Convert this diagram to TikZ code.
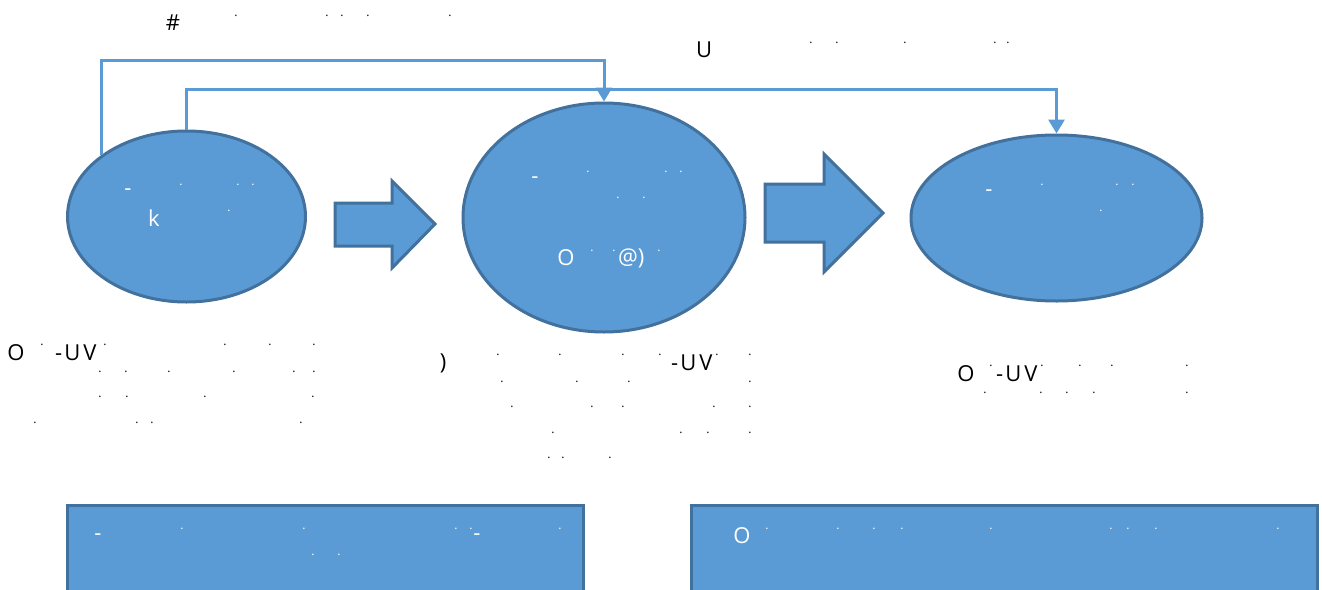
\documentclass[tikz,border=0pt]{standalone}
\usepackage{fontspec}
\setmainfont{Open Sans}
\usetikzlibrary{shapes.geometric,arrows.meta}
\definecolor{shapeblue}{HTML}{5B9BD5}
\definecolor{edgeblue}{HTML}{41719C}
% one row of small dots at a given height
\newcommand\dotrow[4]{%
  \foreach \x [count=\i] in {#4} \node[dotmark,text=#3] (#1-\i) at (\x,#2) {.};}
% the spaced "-UV" mark
\newcommand\uvmark{-\kern2pt U\kern3pt V}
\tikzset{
  blob/.style={ellipse, draw=edgeblue, fill=shapeblue, line width=3pt, inner sep=0pt},
  panel/.style={rectangle, draw=edgeblue, fill=shapeblue, line width=3pt, inner sep=0pt},
  link/.style={draw=shapeblue, line width=3pt, -{Triangle[length=14pt,width=16pt]}},
  blockarrow/.style={draw=edgeblue, fill=shapeblue, line width=3pt, line join=miter},
  lbl/.style={font=\fontsize{22}{26}\selectfont, inner sep=0pt, text=black},
  wlbl/.style={lbl, text=white},
  dotmark/.style={font=\fontsize{12}{14}\selectfont, inner sep=0pt},
}
\begin{document}
\begin{tikzpicture}[x=1pt,y=-1pt]
\clip (0,0) rectangle (1322,589);
\fill[white] (0,0) rectangle (1322,589);

% bottom panels
\node[panel, minimum width=516, minimum height=140] (r1) at (325,575) {};
\node[panel, minimum width=626, minimum height=140] (r2) at (1004,575) {};

% three stages
\node[blob, minimum width=238, minimum height=171] (e1) at (186.5,216.5) {};
\node[blob, minimum width=282, minimum height=229] (e2) at (604,217.5) {};
\node[blob, minimum width=291, minimum height=166] (e3) at (1056.5,218) {};

% block arrows between stages
\draw[blockarrow] (335,203) -- (392,203) -- (392,181) -- (435,224) -- (392,268)
  -- (392,246) -- (335,246) -- cycle;
\draw[blockarrow] (765,184) -- (824,184) -- (824,154) -- (883,213) -- (824,272)
  -- (824,242) -- (765,242) -- cycle;

% feedback connectors
\coordinate (t1) at (604,60);
\coordinate (t2) at (1056.5,89);
\draw[link] (e1.north west) |- (t1) -- (e2.north);
\draw[link] (e1.north) |- (t2) -- (e3.north);

% top captions
\node[lbl] (hash) at (173,23) {\#};
\dotrow{ta}{16}{black}{236,327,342,368,450}
\node[lbl] (ucap) at (704,50) {U};
\dotrow{tb}{43}{black}{811,837,905,995,1008}

% text inside stage 1
\node[wlbl] (e1a) at (128,192) {-};
\dotrow{e1d}{185}{white}{181,238,253}
\node[wlbl] (e1k) at (154,218) {k};
\dotrow{e1e}{211}{white}{229}

% text inside stage 2
\node[wlbl] (e2a) at (535,180) {-};
\dotrow{e2d}{172}{white}{588,666,681}
\dotrow{e2e}{198}{white}{618,644}
\node[wlbl] (e2o) at (566,258) {O};
\dotrow{e2f}{251}{white}{592,614,659}
\node[wlbl, anchor=west] (e2p) at (618,258) {@)};

% text inside stage 3
\node[wlbl] (e3a) at (989,193) {-};
\dotrow{e3d}{185}{white}{1042,1117,1133}
\dotrow{e3e}{211}{white}{1101}

% notes under stage 1
\node[lbl] (n1o) at (16,353) {O};
\node[lbl, anchor=west] (n1u) at (55,353) {\uvmark};
\dotrow{n1a}{345}{black}{42,105,225,270,314}
\dotrow{n1b}{372}{black}{100,126,169,234,294,314}
\dotrow{n1c}{397}{black}{100,127,205,313}
\dotrow{n1d}{423}{black}{35,137,152,301}

% notes under stage 2
\node[lbl] (n2p) at (443,363) {)};
\node[lbl, anchor=west] (n2u) at (671,363) {\uvmark};
\dotrow{n2a}{355}{black}{498,560,623,660,717,750}
\dotrow{n2b}{382}{black}{502,577,629,750}
\dotrow{n2c}{407}{black}{512,592,623,714,750}
\dotrow{n2d}{433}{black}{553,681,708,750}
\dotrow{n2e}{458}{black}{549,563,610}

% notes under stage 3
\node[lbl] (n3o) at (966,374) {O};
\node[lbl, anchor=west] (n3u) at (996,374) {\uvmark};
\dotrow{n3a}{366}{black}{991,1042,1080,1112,1187}
\dotrow{n3b}{393}{black}{985,1041,1067,1094,1187}

% text in the panels
\node[wlbl] (p1a) at (98,537) {-};
\node[wlbl] (p1b) at (477,537) {-};
\dotrow{p1c}{529}{white}{182,304,456,471,560}
\dotrow{p1d}{555}{white}{313,339}
\node[wlbl] (p2o) at (742,536) {O};
\dotrow{p2c}{529}{white}{767,838,874,902,991,1111,1128,1156,1278}
\end{tikzpicture}
\end{document}
